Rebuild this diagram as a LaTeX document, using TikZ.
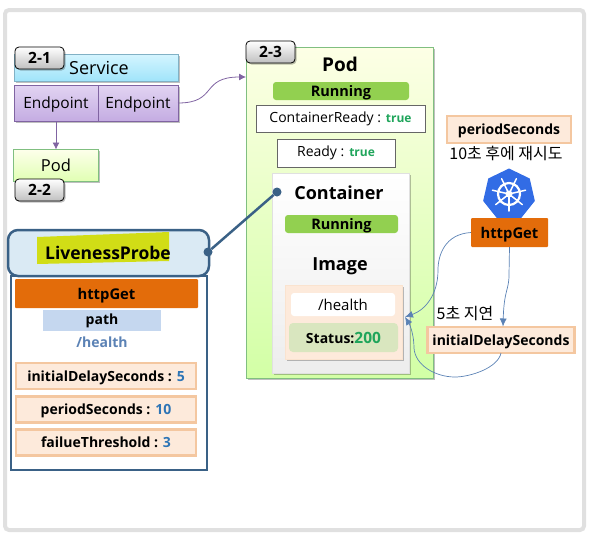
\documentclass[tikz,border=0pt]{standalone}
\usepackage{fontspec}
\setmainfont{Open Sans}
\newfontfamily\krfont{Noto Sans CJK KR}
\usetikzlibrary{calc, shapes.geometric, shadows, arrows.meta}

\definecolor{probeblue}{HTML}{3A6186}
\definecolor{linkblue}{HTML}{5B82B5}
\definecolor{linkpurple}{HTML}{8064A2}
\definecolor{runninggreen}{HTML}{92D050}
\definecolor{trueteal}{HTML}{1FA55B}
\definecolor{numblue}{HTML}{2E75B6}
\definecolor{httporange}{HTML}{E36C0A}
\definecolor{peachfill}{HTML}{FDEADB}
\definecolor{peachline}{HTML}{F4C7A0}
\definecolor{logoblue}{HTML}{326CE5}

\tikzset{
    size/.style 2 args={minimum width=#1pt, minimum height=#2pt, inner sep=0pt, outer sep=0pt},
    softshadow/.style={drop shadow={shadow xshift=1.5pt, shadow yshift=-1.5pt, fill=black, opacity=0.25}},
    badge/.style={size={49}{22}, draw=black, line width=0.8pt, rounded corners=4pt, top color=white, bottom color=black!25, font=\fontsize{15.5}{18}\selectfont\bfseries, softshadow},
    endpoint/.style={draw=linkpurple, text depth=0pt, top color={rgb,255:red,226;green,212;blue,242}, bottom color={rgb,255:red,196;green,172;blue,226}, font=\fontsize{15.5}{18}\selectfont, softshadow},
    running/.style={fill=runninggreen, text depth=0pt, rounded corners=3pt, font=\fontsize{14.5}{17}\selectfont\bfseries},
    whitebox/.style={draw=black!60, fill=white, font=\fontsize{14}{17}\selectfont},
    peachbox/.style={draw=peachline, fill=peachfill, text depth=0pt, line width=2.5pt, font=\fontsize{14}{17}\selectfont\bfseries},
    orangebox/.style={fill=httporange, text depth=0pt, rounded corners=1pt, font=\fontsize{14.8}{18}\selectfont\bfseries},
    title/.style={font=\fontsize{18}{22}\selectfont\bfseries},
    dot/.style={circle, fill=probeblue, size={9}{9}},
    link/.style={linkblue, line width=0.7pt, -{Latex[length=8pt, width=7pt]}},
    purplelink/.style={linkpurple, line width=0.8pt, -{Latex[length=7pt, width=7pt]}}
}

\begin{document}
\begin{tikzpicture}[x=1pt, y=-1pt]
    \useasboundingbox (0,0) rectangle (592,533);
    \draw[draw=black!12, line width=4pt, rounded corners=4pt] (5,10) rectangle (584,530);

    % left column
    \node[size={164}{27}, draw=cyan!60!black!60, top color={rgb,255:red,213;green,245;blue,255}, bottom color={rgb,255:red,160;green,228;blue,250}, font=\fontsize{18}{21}\selectfont, softshadow] (service) at (96,67.5) {\hspace{6pt}Service};
    \node[endpoint, size={84}{36}] (endpointA) at (56,103) {Endpoint};
    \node[endpoint, size={80}{36}] (endpointB) at (138,103) {Endpoint};
    \node[size={85}{32}, draw=green!50!black!50, top color=green!10!yellow!8, bottom color=green!40!yellow!30, font=\fontsize{16.5}{19}\selectfont, softshadow] (podsmall) at (56,165.5) {Pod};
    \node[badge] (badgeA) at (39.5,58) {2-1};
    \node[badge] (badgeB) at (39.5,190) {2-2};

    % big pod
    \node[size={187}{331}, draw=green!50!black!50, top color=green!8!yellow!10, bottom color=green!50!yellow!35, softshadow] (podbig) at (339.5,212.5) {};
    \node[badge] (badgeC) at (270.5,52) {2-3};
    \node[title, font=\fontsize{19}{22}\selectfont\bfseries] (podtitle) at (340,64) {Pod};
    \node[running, size={136}{18}] (runningA) at (341,91) {Running};
    \node[whitebox, size={169}{27}] (containerready) at (340.5,118.5) {ContainerReady : \textcolor{trueteal}{\fontsize{12}{14}\selectfont\bfseries true}};
    \node[whitebox, size={118}{28}] (ready) at (336,153) {Ready : \textcolor{trueteal}{\fontsize{12}{14}\selectfont\bfseries true}};

    \node[size={137}{200}, draw=black!12, top color=white, bottom color=black!7, softshadow] (container) at (340.5,273) {};
    \node[title] (containertitle) at (339,192.5) {Container};
    \node[running, size={113}{18}] (runningB) at (341.5,224) {Running};
    \node[title] (imagetitle) at (340,266.5) {Image};
    \node[size={117}{74}, draw=peachline!50, fill=peachfill, softshadow] (image) at (343.5,322) {};
    \node[fill=white, rounded corners=3pt, size={104}{23}, font=\fontsize{15}{18}\selectfont] (healthA) at (343,304.5) {/health};
    \node[fill=green!20!olive!25, rounded corners=4pt, size={109}{29}, font=\fontsize{14}{17}\selectfont\bfseries] (status) at (343.5,337.5) {Status:\textcolor{trueteal}{\fontsize{15.5}{18}\selectfont 200}};

    % liveness probe
    \node[size={196}{194}, draw=probeblue, fill=white, line width=2.5pt] (probebox) at (109,373) {};
    \node[size={201}{46}, draw=probeblue, fill={rgb,255:red,218;green,234;blue,244}, line width=2.5pt, rounded corners=10pt] (probe) at (108.5,253) {};
    \fill[yellow!85!green!95!black] (37,237) -- (169,232) -- (169,261) -- (37,264) -- cycle;
    \node[font=\fontsize{17.5}{21}\selectfont\bfseries] (probetext) at (108,253) {LivenessProbe};
    \node[orangebox, size={183}{29}] (httpA) at (106.5,293.5) {httpGet};
    \node[fill={rgb,255:red,197;green,215;blue,239}, size={118}{21}, font=\fontsize{14}{17}\selectfont\bfseries] (path) at (102,320.5) {path};
    \node[text=linkblue, font=\fontsize{14}{17}\selectfont\bfseries] (healthB) at (102,342) {/health};
    \node[peachbox, size={180}{26}] (delayA) at (106,376) {initialDelaySeconds : \textcolor{numblue}{5}};
    \node[peachbox, size={180}{26}] (periodA) at (106,409.5) {periodSeconds : \textcolor{numblue}{10}};
    \node[peachbox, size={180}{26}] (failure) at (106,442.5) {failueThreshold : \textcolor{numblue}{3}};

    % right column
    \node[peachbox, size={124}{27}] (periodB) at (509,129.5) {periodSeconds};
    \node[font=\krfont\fontsize{16}{19}\selectfont] (retry) at (506,153) {10초 후에 재시도};
    \node[regular polygon, regular polygon sides=7, fill=logoblue, size={53}{53}] (logo) at (509,195) {};
    \draw[white, line width=2.2pt] (logo.center) ++(0,-1) circle (11);
    \foreach \a in {90,141.4,192.9,244.3,295.7,347.1,38.6}
        \draw[white, line width=1.5pt, line cap=round] (logo.center) ++(0,-1) -- ++(\a:17);
    \fill[white] (logo.center) ++(0,-1) circle (3.5);
    \node[orangebox, size={77}{29}] (httpB) at (509.5,232.5) {httpGet};
    \node[font=\krfont\fontsize{16}{19}\selectfont] (delaylabel) at (465,314) {5초 지연};
    \node[peachbox, size={147}{26}] (delayB) at (501,340) {initialDelaySeconds};

    % links
    \coordinate (target) at (405,317);
    \draw[purplelink] (endpointA.south) -- (podsmall.north);
    \draw[purplelink] (endpointB.east) .. controls (218,103) and (200,77) .. (podbig.west |- 0,77);
    \draw[link] (httpB.west) .. controls (445,234) and (438,255) .. (438,270) .. controls (438,295) and (425,310) .. (target);
    \draw[link] (httpB.south) -- (509,275) .. controls (509,290) and (504,290) .. (503,326.5);
    \draw[link] (delayB.south) .. controls (498,368) and (470,377) .. (455,377) .. controls (435,377) and (415,365) .. (414,348) .. controls (414,335) and (410,325) .. (target);

    \node[dot] (dotA) at (208,252) {};
    \node[dot] (dotB) at (277,192) {};
    \draw[probeblue, line width=2.5pt] (dotA) -- (dotB);
\end{tikzpicture}
\end{document}
